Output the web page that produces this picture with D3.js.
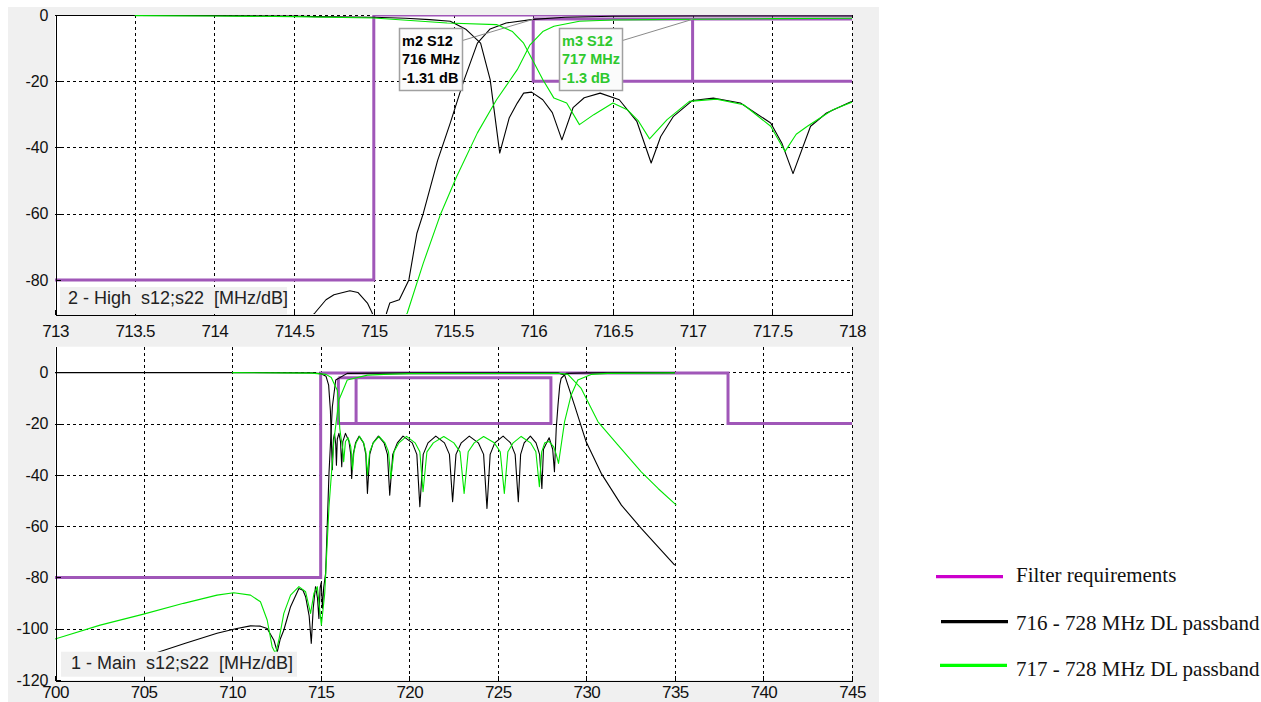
<!DOCTYPE html>
<html>
<head>
<meta charset="utf-8">
<script src="https://cdn.jsdelivr.net/npm/d3@7/dist/d3.min.js"></script>
<style>
body { margin:0; background:#fff; }
svg { display:block; font-family: Arial, "Liberation Sans", sans-serif; }
.grid line { stroke:#000; stroke-width:1; stroke-dasharray:3,3; shape-rendering:crispEdges; }
.axis path, .axis line { stroke:#000; shape-rendering:crispEdges; }
.axis text { fill:#111; }
</style>
</head>
<body>
<svg width="1261" height="702"></svg>
<script>
// ---- top panel: 2 - High, 713..718 MHz ----
var highXTicks = [713, 713.5, 714, 714.5, 715, 715.5, 716, 716.5, 717, 717.5, 718];
var highYTicks = [0, -20, -40, -60, -80];

var highS22Black = [[713,-0.1],[713.5,-0.15],[714,-0.2],[714.5,-0.3],[714.63,-0.5],[715,-0.7],[715.2,-1.0],[715.35,-1.4],
  [715.48,-1.9],[715.58,-4.4],[715.67,-8.5],[715.73,-19.5],[715.79,-41.7],[715.85,-31],[715.9,-26.6],[715.94,-23.6],
  [715.99,-23.3],[716.06,-25.6],[716.12,-29.5],[716.18,-37.7],[716.25,-28],[716.32,-25],[716.42,-23.6],[716.54,-25.6],
  [716.65,-32.1],[716.74,-44.7],[716.8,-36.7],[716.88,-30.6],[717.0,-25.8],[717.13,-25.1],[717.3,-26.6],[717.49,-32.6],
  [717.56,-38.7],[717.63,-47.9],[717.74,-33.6],[717.84,-29.6],[717.99,-26.3],[718,-26.1]];
var highS12Black = [[713,-96],[714.55,-94],[714.63,-90],[714.7,-86],[714.75,-84.5],[714.85,-83.3],[714.9,-83.8],
  [714.96,-87],[714.99,-90],[715.02,-95],[715.06,-95],[715.08,-90],[715.1,-87],[715.16,-86],[715.22,-80],[715.27,-66],
  [715.31,-60],[715.4,-44],[715.48,-32.6],[715.56,-20.5],[715.65,-8.5],[715.73,-4.2],[715.83,-2.4],[716,-1.31],
  [716.2,-0.7],[716.5,-0.4],[717,-0.3],[718,-0.3]];
var highS22Green = [[713.5,-0.2],[714,-0.3],[714.5,-0.5],[715,-0.9],[715.46,-2.4],[715.77,-2.9],[715.87,-5],[715.94,-8.5],
  [716,-14],[716.06,-19.5],[716.13,-25.1],[716.21,-26.6],[716.29,-33.1],[716.38,-30.1],[716.5,-26.6],[716.59,-28.6],
  [716.66,-32],[716.73,-37.4],[716.84,-31.6],[716.98,-26.1],[717.15,-25.4],[717.32,-27.1],[717.49,-33.6],[717.58,-41.2],
  [717.65,-36],[717.72,-33.6],[717.88,-28.6],[718,-26.3]];
var highS12Green = [[713,-96],[715.15,-95],[715.21,-90],[715.31,-75],[715.42,-60],[715.52,-48.8],[715.65,-35.6],
  [715.77,-25.6],[715.9,-16.5],[715.98,-9],[716.06,-5],[716.13,-3.4],[716.29,-1.9],[716.5,-1.5],[716.75,-1.4],
  [717,-1.3],[717.5,-1.1],[718,-1.0]];
var highReq = [
  [[713,-80],[715,-80],[715,0],[718,0]],
  [[716,-1.2],[718,-1.2]],
  [[716,-1.2],[716,-20],[718,-20]],
  [[717,-1.2],[717,-20]]
];

// ---- bottom panel: 1 - Main, 700..745 MHz ----
var mainXTicks = [700, 705, 710, 715, 720, 725, 730, 735, 740, 745];
var mainYTicks = [0, -20, -40, -60, -80, -100, -120];

var mainS22Black = [[700,-0.1],[710,-0.1],[714.5,-0.2],[715,-0.5],[715.3,-1.5],[715.45,-5],[715.55,-15],[715.62,-30],
  [715.66,-38],[715.72,-26],[715.78,-24],[715.85,-28],[715.89,-36.2],[715.94,-26],[716.03,-23.8],[716.12,-27],
  [716.19,-36.8],[716.25,-27],[716.4,-23.8],[716.6,-27],[716.7,-32],[716.75,-41.4],
  [716.84,-32],[716.97,-27.5],[717.17,-24.9],[717.42,-27.5],[717.55,-32],[717.64,-47.2],
  [717.77,-32],[717.96,-27.5],[718.26,-24.9],[718.58,-27.5],[718.77,-32],[718.9,-47.9],
  [719.07,-32],[719.33,-27.5],[719.65,-24.9],[720.17,-27.5],[720.43,-32],[720.6,-52.4],
  [720.79,-32],[721.06,-27.5],[721.5,-24.9],[721.99,-27.5],[722.27,-32],[722.45,-50.5],
  [722.64,-32],[722.94,-27.5],[723.39,-24.9],[723.9,-27.5],[724.2,-32],[724.39,-53.1],
  [724.57,-32],[724.83,-27.5],[725.3,-24.9],[725.72,-27.5],[725.98,-32],[726.16,-50.5],
  [726.29,-32],[726.49,-27.5],[726.84,-24.9],[727.16,-27.5],[727.36,-32],[727.49,-45.3],
  [727.58,-30],[727.9,-25.5],[728.1,-30],[728.2,-38.8],[728.3,-22],[728.4,-12.8],[728.5,-5],[728.58,-2.3],
  [728.86,-0.4],[730,-0.2],[735,-0.1]];
var mainS12Black = [[702.5,-117.5],[705,-111],[707.36,-105.7],[709.15,-101.8],[710.2,-100],[711.04,-98.9],[711.6,-99],
  [711.98,-99.9],[712.36,-104.5],[712.55,-109],[712.72,-104],[712.92,-100.5],[713.3,-91.4],[713.77,-84.3],[714.0,-85],
  [714.15,-87.5],[714.35,-95],[714.47,-105.7],[714.58,-92],[714.71,-83.6],[714.82,-88],[714.9,-96],[714.97,-84],
  [715.03,-82],[715.1,-92],[715.17,-84],[715.28,-78.4],[715.47,-39.4],[715.66,-13.4],[715.85,-3],[716.5,-0.4],
  [720,-0.2],[728.4,-0.2],[728.77,-1],[729.33,-12.8],[729.99,-27.1],[730.84,-39.4],[731.98,-51.8],[733.1,-60.9],
  [734.99,-75.2]];
var mainS22Green = [[710,-0.1],[714.5,-0.3],[715.3,-0.8],[715.6,-2],[715.8,-5],[715.94,-7],[716.0,-12],[716.08,-22],
  [716.15,-25.5],[716.25,-30],[716.3,-34.9],[716.4,-27],[716.55,-25.5],[716.7,-29],[716.8,-38],
  [716.88,-31],[717.0,-27.5],[717.2,-25],[717.43,-27.5],[717.55,-31],[717.64,-40],
  [717.77,-31],[717.97,-27.5],[718.3,-25],[718.63,-27.5],[718.83,-31],[718.96,-41.4],
  [719.14,-31],[719.42,-27.5],[719.85,-25],[720.33,-27.5],[720.6,-31],[720.78,-46.6],
  [721.0,-31],[721.36,-27.5],[721.95,-25],[722.52,-27.5],[722.87,-31],[723.1,-47.2],
  [723.33,-31],[723.67,-27.5],[724.2,-25],[724.8,-27.5],[725.14,-31],[725.37,-47.2],
  [725.57,-31],[725.87,-27.5],[726.32,-25],[726.85,-27.5],[727.15,-31],[727.35,-44.6],
  [727.48,-31],[727.65,-27.5],[727.9,-27],[728.15,-29],[728.3,-32],[728.43,-35.5],
  [728.77,-19.3],[729.14,-8.9],[729.52,-3],[730.27,-0.8],[731.2,-0.4],[735,-0.2]];
var mainS12Green = [[700,-104],[702.55,-98.6],[705,-94.3],[707.26,-90.1],[709.15,-86.9],[710.09,-86],[711.04,-86.9],
  [711.6,-89.5],[711.98,-96.6],[712.26,-107],[712.45,-109.7],[712.64,-104.4],[712.92,-94],[713.3,-86.9],[713.77,-83.6],
  [714.15,-85.6],[714.43,-94],[714.62,-86.2],[714.81,-83.6],[715.04,-98.6],[715.23,-86.2],[715.47,-52.4],[715.75,-26.4],
  [716.03,-10.8],[716.5,-3],[717.64,-1.1],[718.58,-0.8],[720,-0.5],[728.5,-0.4],[728.96,-0.8],[729.71,-6.3],
  [730.66,-19.3],[731.79,-28.4],[733.1,-38.8],[734.05,-45.3],[735.08,-51.8]];
var mainReq = [
  [[700,-80],[715,-80],[715,-0.3],[738,-0.3],[738,-20],[745,-20]],
  [[716,-2.1],[728,-2.1],[728,-20],[716,-20],[716,-2.1]],
  [[717,-2.1],[717,-20]]
];

// markers on the top panel
var markerNames = ["m2 S12", "m3 S12"];
var markerFreqs = [716, 717];
var markerValues = [-1.31, -1.3];

var legendLabels = ["Filter requirements", "716 - 728 MHz DL passband", "717 - 728 MHz DL passband"];

var reqColor = "#a057b8";
var black = "#000000";
var green = "#00e600";

var svg = d3.select("svg");

// grey window background
svg.append("rect").attr("x", 8).attr("y", 7).attr("width", 871).attr("height", 695).attr("fill", "#f0f0f0");

function drawPanel(p) {
    var x = d3.scaleLinear().domain(p.xDomain).range([p.left, p.right]);
    var y = d3.scaleLinear().domain(p.yDomain).range([p.bottom, p.top]);
    var g = svg.append("g");

    g.append("rect")
        .attr("x", p.left).attr("y", p.top)
        .attr("width", p.right - p.left).attr("height", p.bottom - p.top)
        .attr("fill", "#fff");

    var clipId = "clip-" + p.id;
    svg.append("clipPath").attr("id", clipId).append("rect")
        .attr("x", p.left).attr("y", p.top)
        .attr("width", p.right - p.left).attr("height", p.bottom - p.top);

    // dashed grid
    var grid = g.append("g").attr("class", "grid");
    grid.selectAll(".v").data(p.xTicks.slice(1)).enter().append("line")
        .attr("x1", function(d) { return Math.round(x(d)) + 0.5; })
        .attr("x2", function(d) { return Math.round(x(d)) + 0.5; })
        .attr("y1", p.top).attr("y2", p.bottom);
    grid.selectAll(".h").data(p.yTicks.filter(function(d) { return d > p.yDomain[0] + 1; })).enter().append("line")
        .attr("x1", p.left).attr("x2", p.right)
        .attr("y1", function(d) { return Math.round(y(d)) + 0.5; })
        .attr("y2", function(d) { return Math.round(y(d)) + 0.5; });

    var line = d3.line().x(function(d) { return x(d[0]); }).y(function(d) { return y(d[1]); });
    var plot = g.append("g").attr("clip-path", "url(#" + clipId + ")");

    plot.selectAll(".req").data(p.req).enter().append("path")
        .attr("d", line).attr("fill", "none")
        .attr("stroke", reqColor).attr("stroke-width", 3);

    plot.selectAll(".series").data(p.series).enter().append("path")
        .attr("d", function(d) { return line(d.values); })
        .attr("fill", "none")
        .attr("stroke", function(d) { return d.color; })
        .attr("stroke-width", 1.1)
        .attr("stroke-linejoin", "round");

    // axes, ticks pointing into the plot
    var xAxis = g.append("g").attr("class", "axis")
        .attr("transform", "translate(0," + (Math.round(p.bottom) + 0.5) + ")")
        .call(d3.axisBottom(x).tickValues(p.xTicks).tickFormat(function(d) { return String(d); })
            .tickSize(-5).tickSizeOuter(0).tickPadding(p.xPad));
    xAxis.attr("font-size", 17).attr("font-family", "Arial, 'Liberation Sans', sans-serif");
    xAxis.selectAll("text").attr("letter-spacing", "-0.6px");

    var yAxis = g.append("g").attr("class", "axis")
        .attr("transform", "translate(" + (p.left + 0.5) + ",0)")
        .call(d3.axisLeft(y).tickValues(p.yTicks).tickFormat(function(d) { return String(d); })
            .tickSize(-5).tickSizeOuter(0).tickPadding(7));
    yAxis.attr("font-size", 16).attr("font-family", "Arial, 'Liberation Sans', sans-serif");

    // panel caption box
    g.append("rect")
        .attr("x", p.caption.x).attr("y", p.caption.y)
        .attr("width", p.caption.w).attr("height", p.caption.h)
        .attr("fill", "#f0f0f0");
    g.append("text")
        .attr("x", p.caption.x + p.caption.tx).attr("y", p.caption.y + p.caption.ty)
        .style("white-space", "pre")
        .attr("font-size", 18).attr("fill", "#222")
        .text(p.caption.text);

    return { x: x, y: y, g: g };
}

var high = drawPanel({
    id: "high", xDomain: [713, 718], yDomain: [-90.3, 0],
    left: 55, right: 852, top: 15, bottom: 314, xPad: 10,
    xTicks: highXTicks, yTicks: highYTicks, req: highReq,
    series: [
        { values: highS22Black, color: black },
        { values: highS12Black, color: black },
        { values: highS22Green, color: green },
        { values: highS12Green, color: green }
    ],
    caption: { x: 60, y: 287, w: 227, h: 27, tx: 8, ty: 16.5, text: "2 - High  s12;s22  [MHz/dB]" }
});

var main = drawPanel({
    id: "main", xDomain: [700, 745], yDomain: [-120, 10],
    left: 55, right: 852, top: 346.7, bottom: 680, xPad: 5,
    xTicks: mainXTicks, yTicks: mainYTicks, req: mainReq,
    series: [
        { values: mainS22Black, color: black },
        { values: mainS12Black, color: black },
        { values: mainS22Green, color: green },
        { values: mainS12Green, color: green }
    ],
    caption: { x: 61, y: 651.7, w: 236, h: 25, tx: 10, ty: 17.5, text: "1 - Main  s12;s22  [MHz/dB]" }
});

// marker call-outs
var markerColors = [black, "#2ec82e"];
markerNames.forEach(function(name, i) {
    var px = high.x(markerFreqs[i]);
    var py = high.y(markerValues[i]);
    var bx = Math.round(px - 134) + 0.5, by = 28.5, bw = 63, bh = 62;
    var mg = high.g.append("g");
    mg.append("line")
        .attr("x1", bx + bw).attr("y1", by + 12)
        .attr("x2", px).attr("y2", py)
        .attr("stroke", "#8a8a8a").attr("stroke-width", 1);
    mg.append("rect")
        .attr("x", bx).attr("y", by).attr("width", bw).attr("height", bh)
        .attr("fill", "#fbfbfb").attr("stroke", "#a0a0a0").attr("stroke-width", 1.5);
    var lines = [name, markerFreqs[i] + " MHz", markerValues[i] + " dB"];
    mg.selectAll("text").data(lines).enter().append("text")
        .attr("x", bx + 2.5)
        .attr("y", function(d, j) { return by + 17 + j * 18.7; })
        .attr("font-size", 14.5).attr("font-weight", "bold")
        .attr("fill", markerColors[i])
        .text(function(d) { return d; });
});

// legend at the right
var legendColors = ["#cc00cc", "#000000", "#00ff00"];
var legendLineX = [936, 941, 940];
var legendY = [576.7, 621.7, 665.3];
var lg = svg.append("g");
legendLabels.forEach(function(label, i) {
    lg.append("line")
        .attr("x1", legendLineX[i]).attr("x2", legendLineX[i] + 67)
        .attr("y1", legendY[i]).attr("y2", legendY[i])
        .attr("stroke", legendColors[i]).attr("stroke-width", 3.3);
    lg.append("text")
        .attr("x", 1016).attr("y", legendY[i] + 5.5 + i * 2.5)
        .attr("font-family", "'Liberation Serif', 'Times New Roman', serif")
        .attr("font-size", 21).attr("fill", "#111")
        .text(label);
});
</script>
</body>
</html>
